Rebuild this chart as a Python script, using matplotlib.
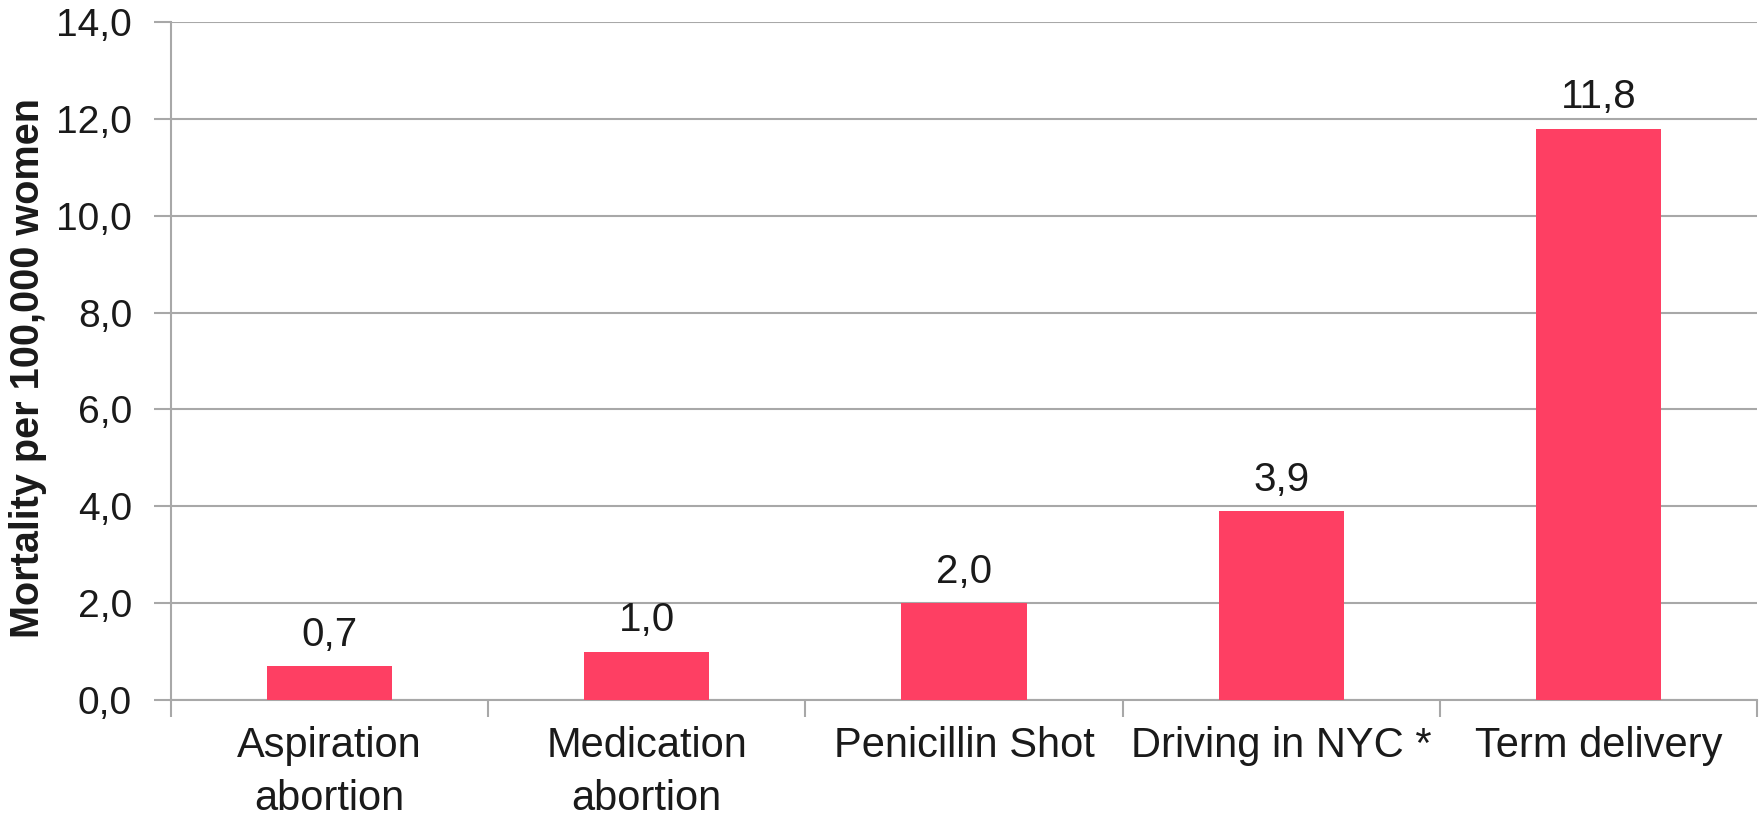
import matplotlib
matplotlib.use("Agg")
import matplotlib.pyplot as plt
import numpy as np

categories = ["Aspiration\nabortion", "Medication\nabortion", "Penicillin Shot",
              "Driving in NYC *", "Term delivery"]
values = [0.7, 1.0, 2.0, 3.9, 11.8]
yticks = [0, 2, 4, 6, 8, 10, 12, 14]

plt.rcParams['font.family'] = ['Liberation Sans', 'DejaVu Sans']

fig = plt.figure(figsize=(17.59, 8.18), dpi=100)
ax = fig.add_axes([0.0972, 0.1443, 0.9017, 0.8288])

x = np.arange(len(categories))
bar_color = '#FE3F63'
grid_color = '#A8A8A8'
text_color = '#1a1a1a'
ax.bar(x, values, width=0.395, color=bar_color, zorder=3)

for xi, v in zip(x, values):
    ax.annotate(f"{v:.1f}".replace('.', ','), (xi, v), xytext=(0, 9),
                textcoords='offset points', ha='center', va='bottom',
                fontsize=29, color=text_color)

ax.set_xlim(-0.5, len(categories) - 0.5)
ax.set_ylim(0, 14)
ax.set_yticks(yticks)
ax.set_yticklabels([f"{t:.1f}".replace('.', ',') for t in yticks], fontsize=28,
                   color=text_color)
ax.yaxis.grid(True, color=grid_color, linewidth=1.5, zorder=0)
ax.set_axisbelow(True)

ax.set_xticks(x)
ax.set_xticklabels(categories, fontsize=30, color=text_color, linespacing=1.4)
ax.tick_params(axis='x', which='major', length=0, pad=19)
ax.set_xticks(np.arange(-0.5, len(categories), 1.0), minor=True)
ax.tick_params(axis='x', which='minor', length=12, width=1.5, color=grid_color)
ax.tick_params(axis='y', length=12, width=1.5, color=grid_color, pad=16)

for s in ['top', 'right']:
    ax.spines[s].set_visible(False)
for s in ['left', 'bottom']:
    ax.spines[s].set_color(grid_color)
    ax.spines[s].set_linewidth(1.5)

ax.set_ylabel("Mortality per 100,000 women", fontsize=28.5, fontweight='bold',
              color=text_color)
ax.yaxis.set_label_coords(-0.078, 0.49)

fig.savefig("out.png", dpi=100)
